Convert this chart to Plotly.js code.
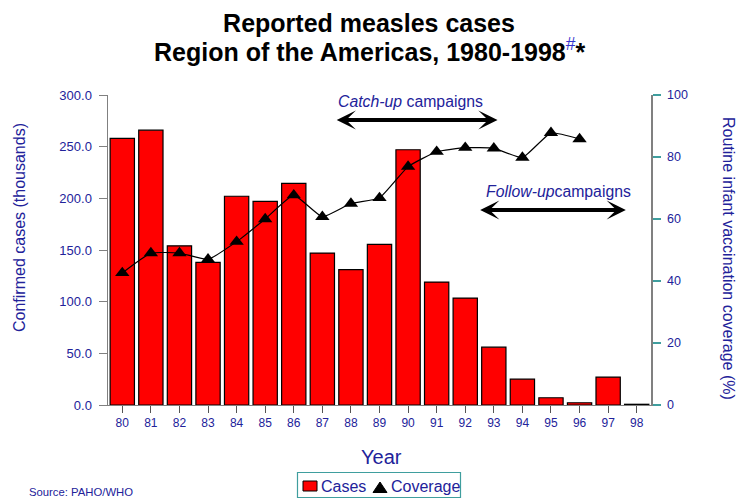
<!DOCTYPE html>
<html>
<head>
<meta charset="utf-8">
<script src="https://cdn.plot.ly/plotly-3.0.1.min.js"></script>
<style>html,body{margin:0;padding:0;background:#fff;}#chart{width:738px;height:499px;}</style>
</head>
<body>
<div id="chart"></div>
<script>
// ---- data ----
const years = [80, 81, 82, 83, 84, 85, 86, 87, 88, 89, 90, 91, 92, 93, 94, 95, 96, 97, 98];
const cases = [258, 266, 154, 138, 202, 197, 214.5, 147, 131, 155.5, 247, 119, 103.5, 56, 25, 7, 2.2, 27, 0.7];
const coverageYears = [80, 81, 82, 83, 84, 85, 86, 87, 88, 89, 90, 91, 92, 93, 94, 95, 96];
const coverage = [42.6, 49, 49, 47, 52.7, 60, 67.7, 60.7, 65, 66.8, 76.9, 81.7, 83, 82.8, 79.8, 87.8, 85.8];
const catchUpYears = [87.45, 93.13];
const followUpYears = [92.47, 97.62];

// ---- layout helpers ----
const W = 738, H = 499;
const M = {l: 108, r: 87, t: 95, b: 94};
const PW = W - M.l - M.r, PH = H - M.t - M.b;
const px = x => (x - M.l) / PW;
const py = y => (H - M.b - y) / PH;
const FONT = 'Liberation Sans, Arial, sans-serif';
const NAVY = '#22229a';
const TEAL = '#3f9e9e';

const traces = [
  {
    type: 'bar', name: 'Cases', x: years, y: cases, width: 0.85,
    marker: {color: '#ff0000', line: {color: '#000000', width: 1.2}},
    showlegend: false, hoverinfo: 'x+y'
  },
  {
    type: 'scatter', mode: 'lines+markers', name: 'Coverage', x: coverageYears, y: coverage, yaxis: 'y2',
    line: {color: '#000000', width: 1.2, shape: 'spline', smoothing: 0.4},
    marker: {symbol: 'triangle-up', size: 12.5, color: '#000000'},
    showlegend: false
  }
];

const arrowStyle = {
  text: '', showarrow: true, arrowside: 'end+start', arrowhead: 3, startarrowhead: 3,
  arrowsize: 0.8, startarrowsize: 0.8, arrowwidth: 4, arrowcolor: '#000000',
  xref: 'x', yref: 'y', axref: 'x', ayref: 'y', standoff: 0, startstandoff: 0
};

const layout = {
  width: W, height: H,
  margin: M,
  paper_bgcolor: '#ffffff', plot_bgcolor: '#ffffff',
  font: {family: FONT, color: NAVY},
  showlegend: false,
  title: {
    text: '<b>Reported measles cases</b>',
    font: {family: FONT, size: 25, color: '#000000'},
    x: 369 / W, xanchor: 'center', y: 1 - 23 / H, yanchor: 'middle'
  },
  bargap: 0.15,
  xaxis: {
    range: [79.5, 98.5], tickmode: 'array', tickvals: years,
    ticks: 'outside', ticklen: 7, tickcolor: '#555555', tickwidth: 1,
    showline: true, linecolor: '#808080', linewidth: 1,
    showgrid: false, zeroline: false,
    tickfont: {family: FONT, size: 12, color: NAVY}
  },
  yaxis: {
    range: [0, 300], tickmode: 'array', tickvals: [0, 50, 100, 150, 200, 250, 300], tickformat: '.1f',
    ticks: 'outside', ticklen: 8, tickcolor: '#808080', tickwidth: 1,
    showline: true, linecolor: '#808080', linewidth: 1.5,
    showgrid: false, zeroline: false, ticklabelstandoff: 4,
    tickfont: {family: FONT, size: 13, color: NAVY}
  },
  yaxis2: {
    overlaying: 'y', side: 'right', range: [0, 100], tickmode: 'array', tickvals: [0, 20, 40, 60, 80, 100],
    ticks: 'outside', ticklen: 8, tickcolor: TEAL, tickwidth: 1.2,
    showline: true, linecolor: '#808080', linewidth: 1.5,
    showgrid: false, zeroline: false, ticklabelstandoff: 4,
    tickfont: {family: FONT, size: 12.5, color: NAVY}
  },
  shapes: [
    // legend box
    {type: 'rect', xref: 'paper', yref: 'paper', x0: px(297.5), x1: px(460.5), y0: py(472.5), y1: py(497.5),
     line: {color: TEAL, width: 1.2}, fillcolor: '#ffffff'},
    // legend symbol: bar
    {type: 'rect', xref: 'paper', yref: 'paper', x0: px(303), x1: px(317), y0: py(481), y1: py(491),
     line: {color: '#000000', width: 1}, fillcolor: '#ff0000'},
    // legend symbol: triangle
    {type: 'path', xref: 'paper', yref: 'paper',
     path: 'M ' + px(373) + ' ' + py(492.5) + ' L ' + px(387) + ' ' + py(492.5) + ' L ' + px(380) + ' ' + py(482) + ' Z',
     line: {color: '#000000', width: 1}, fillcolor: '#000000'}
  ],
  annotations: [
    {text: '<b>Region of the Americas, 1980-1998</b><span style="color:#3333cc"><sup>#</sup></span><b>*</b>',
     xref: 'paper', yref: 'paper', x: px(369), y: py(50), xanchor: 'center', yanchor: 'middle',
     showarrow: false, font: {family: FONT, size: 25, color: '#000000'}},
    {text: 'Confirmed cases (thousands)', xref: 'paper', yref: 'paper', x: px(19), y: py(228),
     xanchor: 'center', yanchor: 'middle', textangle: -90, showarrow: false,
     font: {family: FONT, size: 16, color: NAVY}},
    {text: 'Routine infant vaccination coverage (%)', xref: 'paper', yref: 'paper', x: px(729), y: py(258),
     xanchor: 'center', yanchor: 'middle', textangle: 90, showarrow: false,
     font: {family: FONT, size: 16, color: NAVY}},
    {text: 'Year', xref: 'paper', yref: 'paper', x: px(381), y: py(457),
     xanchor: 'center', yanchor: 'middle', showarrow: false,
     font: {family: FONT, size: 20, color: NAVY}},
    {text: 'Source: PAHO/WHO', xref: 'paper', yref: 'paper', x: px(27), y: py(491.5),
     xanchor: 'left', yanchor: 'middle', showarrow: false,
     font: {family: FONT, size: 11.3, color: NAVY}},
    {text: '<i>Catch-up</i> campaigns', xref: 'paper', yref: 'paper', x: px(410.5), y: py(101.5),
     xanchor: 'center', yanchor: 'middle', showarrow: false,
     font: {family: FONT, size: 15.8, color: NAVY}},
    {text: '<i>Follow-up</i>campaigns', xref: 'paper', yref: 'paper', x: px(558.7), y: py(191),
     xanchor: 'center', yanchor: 'middle', showarrow: false,
     font: {family: FONT, size: 15.8, color: NAVY}},
    Object.assign({x: catchUpYears[1], ax: catchUpYears[0], y: 275.8, ay: 275.8}, arrowStyle),
    Object.assign({x: followUpYears[1], ax: followUpYears[0], y: 188.7, ay: 188.7}, arrowStyle),
    // legend labels
    {text: 'Cases', xref: 'paper', yref: 'paper', x: px(318.5), y: py(486), xanchor: 'left', yanchor: 'middle',
     showarrow: false, font: {family: FONT, size: 16, color: NAVY}},
    {text: 'Coverage', xref: 'paper', yref: 'paper', x: px(388.5), y: py(486), xanchor: 'left', yanchor: 'middle',
     showarrow: false, font: {family: FONT, size: 16, color: NAVY}}
  ]
};

Plotly.newPlot('chart', traces, layout, {displayModeBar: false, staticPlot: true});
</script>
</body>
</html>
